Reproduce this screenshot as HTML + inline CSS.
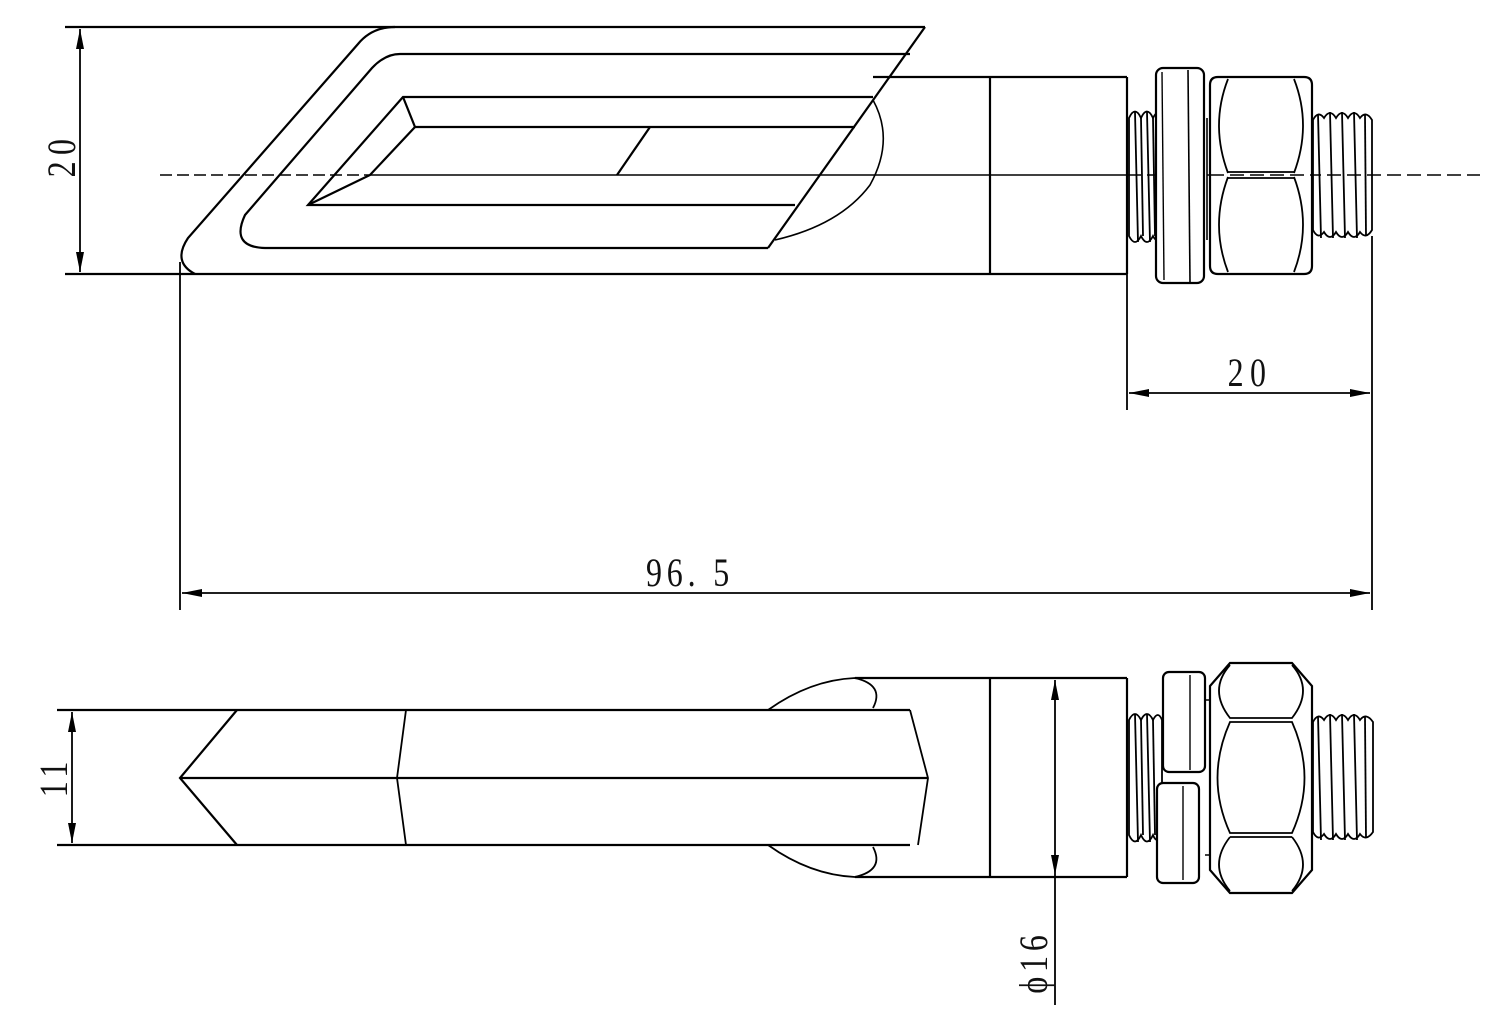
<!DOCTYPE html>
<html><head><meta charset="utf-8"><style>
html,body{margin:0;padding:0;background:#fff;}
svg{display:block;}
text{font-family:"Liberation Serif",serif;fill:#111;}
</style></head><body>
<svg width="1500" height="1025" viewBox="0 0 1500 1025" xmlns="http://www.w3.org/2000/svg">
<defs>
<marker id="a" viewBox="0 0 20 8" refX="20" refY="4" markerWidth="20" markerHeight="8" markerUnits="userSpaceOnUse" orient="auto-start-reverse"><path d="M0,0 L20,4 L0,8 Z" fill="#000"/></marker>
</defs>
<g stroke="#000" stroke-width="2.2" fill="none">
<line x1="65" y1="27" x2="925" y2="27"/>
<line x1="65" y1="274" x2="1127" y2="274"/>
<line x1="80" y1="29" x2="80" y2="272" marker-start="url(#a)" marker-end="url(#a)" stroke-width="1.8"/>
<path d="M925,27 L768,248"/>
<path d="M395,27 Q372,27 358,44 L188,238 Q172,262 195,274"/>
<path d="M910,54 L400,54 Q385,54 372,68 L245,215 Q230,247 265,248 L768,248"/>
<path d="M873,97 L403,97 L308,205 L795,205"/>
<path d="M403,97 L415,127 L855,127"/>
<path d="M415,127 L370,175 L308,205"/>
<path d="M650,127 L617,175"/>
<path d="M873,100 Q895,140 870,185 Q840,225 775,240" stroke-width="1.6"/>
<line x1="160" y1="175" x2="370" y2="175" stroke-dasharray="12,5" stroke-width="1.6"/>
<line x1="370" y1="175" x2="1127" y2="175" stroke-width="1.6"/>
<line x1="1127" y1="175" x2="1480" y2="175" stroke-dasharray="14,6" stroke-width="1.6"/>
<line x1="873" y1="77" x2="1127" y2="77"/>
<line x1="990" y1="77" x2="990" y2="274"/>
<line x1="1127" y1="77" x2="1127" y2="274"/>
<g stroke-width="1.8">
<path d="M1129,118 Q1135,105 1141,118 Q1147,105 1153,118 Q1158,108 1160,118 L1160,236 Q1157,244 1153,236 Q1147,248 1141,236 Q1135,248 1129,236 Z"/>
<line x1="1135" y1="112" x2="1138" y2="242"/><line x1="1147" y1="112" x2="1150" y2="242"/><line x1="1141" y1="118" x2="1143" y2="236"/><line x1="1153" y1="118" x2="1155" y2="236"/>
</g>
<rect x="1156" y="68" width="48" height="215" rx="7" fill="#fff"/>
<line x1="1188" y1="70" x2="1190" y2="282" stroke-width="1.6"/>
<line x1="1162" y1="72" x2="1164" y2="280" stroke-width="1.4"/>
<path d="M1207,118 L1207,240" stroke-width="1.6"/>
<path d="M1218,77 L1304,77 Q1312,77 1312,85 L1312,266 Q1312,274 1304,274 L1218,274 Q1210,274 1210,266 L1210,85 Q1210,77 1218,77 Z" fill="#fff"/>
<path d="M1228,79 Q1210,125 1228,173 M1294,79 Q1312,125 1294,173 M1228,177 Q1210,225 1228,272 M1294,177 Q1312,225 1294,272" stroke-width="1.8"/>
<line x1="1228" y1="172" x2="1294" y2="172" stroke-width="1.8"/>
<line x1="1228" y1="178" x2="1294" y2="178" stroke-width="1.8"/>
<line x1="1210" y1="175" x2="1312" y2="175" stroke-width="1.4" stroke-dasharray="14,6"/>
<g stroke-width="1.8">
<path d="M1313,120 Q1318,110 1324,118 Q1330,108 1336,118 Q1342,108 1348,118 Q1354,108 1360,118 Q1366,110 1372,120 L1372,230 Q1366,240 1360,232 Q1354,242 1348,232 Q1342,242 1336,232 Q1330,242 1324,232 Q1318,240 1313,230 Z"/>
<line x1="1318" y1="114" x2="1321" y2="238"/><line x1="1330" y1="112" x2="1333" y2="238"/><line x1="1342" y1="112" x2="1345" y2="238"/><line x1="1354" y1="112" x2="1357" y2="238"/><line x1="1365" y1="115" x2="1366" y2="236"/>
</g>
<line x1="180" y1="262" x2="180" y2="610" stroke-width="1.8"/>
<line x1="1372" y1="236" x2="1372" y2="610" stroke-width="1.8"/>
<line x1="1127" y1="274" x2="1127" y2="410" stroke-width="1.8"/>
<line x1="1129" y1="393" x2="1370" y2="393" marker-start="url(#a)" marker-end="url(#a)" stroke-width="1.8"/>
<line x1="182" y1="593" x2="1370" y2="593" marker-start="url(#a)" marker-end="url(#a)" stroke-width="1.8"/>

<line x1="57" y1="710" x2="910" y2="710"/>
<line x1="57" y1="845" x2="910" y2="845"/>
<line x1="72" y1="712" x2="72" y2="843" marker-start="url(#a)" marker-end="url(#a)" stroke-width="1.8"/>
<path d="M237,710 L180,778 L237,845"/>
<line x1="180" y1="778" x2="928" y2="778"/>
<path d="M406,710 L397,778 L406,845" stroke-width="1.8"/>
<path d="M910,710 L928,778 L918,845" stroke-width="1.8"/>
<path d="M768,710 Q810,680 855,678 Q885,685 873,708" stroke-width="1.8"/>
<path d="M768,845 Q810,875 855,877 Q885,870 873,847" stroke-width="1.8"/>
<line x1="855" y1="678" x2="1127" y2="678"/>
<line x1="855" y1="877" x2="1127" y2="877"/>
<line x1="990" y1="678" x2="990" y2="877"/>
<line x1="1127" y1="678" x2="1127" y2="877"/>
<line x1="1055" y1="680" x2="1055" y2="875" marker-start="url(#a)" marker-end="url(#a)" stroke-width="1.8"/>
<line x1="1055" y1="875" x2="1055" y2="1005" stroke-width="1.8"/>
<g stroke-width="1.8">
<path d="M1129,720 Q1135,708 1141,720 Q1147,708 1153,720 Q1158,710 1162,720 L1162,835 Q1157,845 1153,835 Q1147,848 1141,835 Q1135,848 1129,835 Z"/>
<line x1="1135" y1="714" x2="1138" y2="842"/><line x1="1147" y1="714" x2="1150" y2="842"/><line x1="1141" y1="720" x2="1143" y2="835"/><line x1="1153" y1="720" x2="1155" y2="835"/>
</g>
<rect x="1163" y="672" width="42" height="100" rx="6" fill="#fff"/>
<rect x="1157" y="783" width="42" height="100" rx="6" fill="#fff"/>
<line x1="1190" y1="675" x2="1190" y2="770" stroke-width="1.4"/>
<line x1="1183" y1="786" x2="1183" y2="880" stroke-width="1.4"/>
<path d="M1205,700 L1210,700 M1205,855 L1210,855" stroke-width="1.6"/>
<path d="M1230,663 L1292,663 L1312,686 L1312,870 L1292,893 L1230,893 L1210,870 L1210,686 Z" fill="#fff"/>
<path d="M1230,665 Q1208,690 1230,718 L1292,718 Q1314,690 1292,665" stroke-width="1.8"/>
<path d="M1230,722 Q1205,778 1230,833 L1292,833 Q1317,778 1292,722 Z" stroke-width="1.8"/>
<path d="M1230,837 Q1208,865 1230,891 M1292,837 Q1314,865 1292,891 M1230,837 L1292,837" stroke-width="1.8"/>
<g stroke-width="1.8">
<path d="M1313,722 Q1318,712 1324,720 Q1330,710 1336,720 Q1342,710 1348,720 Q1354,710 1360,720 Q1366,712 1373,722 L1373,832 Q1366,842 1360,834 Q1354,844 1348,834 Q1342,844 1336,834 Q1330,844 1324,834 Q1318,842 1313,832 Z"/>
<line x1="1318" y1="716" x2="1321" y2="840"/><line x1="1330" y1="714" x2="1333" y2="840"/><line x1="1342" y1="714" x2="1345" y2="840"/><line x1="1354" y1="714" x2="1357" y2="840"/><line x1="1365" y1="717" x2="1366" y2="838"/>
</g>
</g>
<text transform="translate(75,155) rotate(-90) scale(0.8,1)" font-size="40" text-anchor="middle" letter-spacing="8">20</text>
<text transform="translate(1250,386) scale(0.8,1)" font-size="40" text-anchor="middle" letter-spacing="8">20</text>
<text transform="translate(690,586) scale(0.8,1)" font-size="40" text-anchor="middle" letter-spacing="6">96. 5</text>
<text transform="translate(67,777) rotate(-90) scale(0.8,1)" font-size="40" text-anchor="middle" letter-spacing="6">11</text>
<text transform="translate(1047,962) rotate(-90) scale(0.8,1)" font-size="40" text-anchor="middle" letter-spacing="6">ϕ16</text>
</svg>
</body></html>
